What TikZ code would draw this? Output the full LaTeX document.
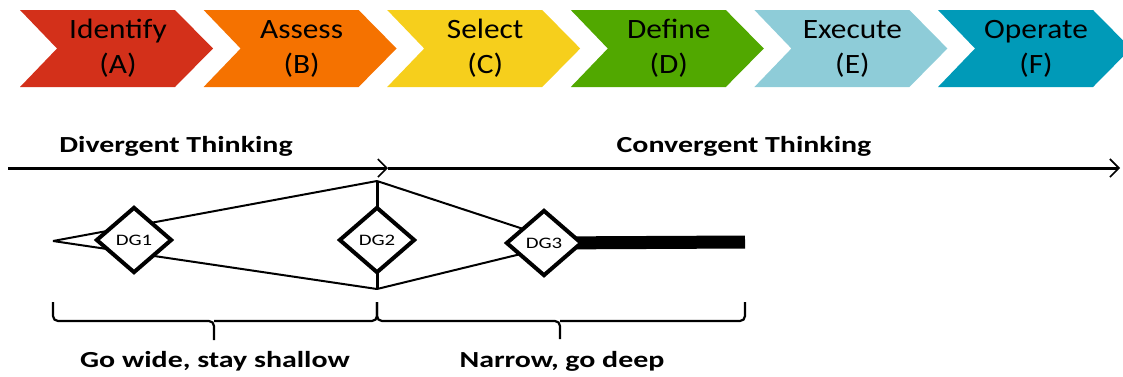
\documentclass[tikz,border=0pt]{standalone}
\usepackage{fontspec}
\setmainfont{Carlito}
\newfontfamily\stepfont[FakeStretch=1.12]{Carlito}
\newfontfamily\phasefont[FakeStretch=1.3]{Carlito}
\usetikzlibrary{arrows.meta,shapes.geometric,backgrounds,calc}

\definecolor{stepA}{RGB}{211,48,26}
\definecolor{stepB}{RGB}{245,114,0}
\definecolor{stepC}{RGB}{246,207,28}
\definecolor{stepD}{RGB}{81,168,0}
\definecolor{stepE}{RGB}{142,204,216}
\definecolor{stepF}{RGB}{0,154,184}

\begin{document}
\begin{tikzpicture}[x=1pt,y=-1pt,{gate/.style={diamond,draw=black,line width=4pt,fill=white,inner sep=0pt,minimum width=76pt,minimum height=66pt,font=\phasefont\fontsize{16}{18}\selectfont}},{axis/.style={line width=3pt,-{Straight Barb[length=9pt,width=18pt,line width=1.6pt]}}},{fan/.style={line width=2pt}},{brc/.style={line width=2.2pt,rounded corners=5pt}},{phase/.style={anchor=base,font=\phasefont\bfseries\fontsize{23}{27}\selectfont}},{steptxt/.style={align=center,inner sep=0pt,font=\stepfont\fontsize{28}{35}\selectfont}}]
	\useasboundingbox (0,0) rectangle (1123,376);

	%% chevrons
	\foreach \lbl/\tag/\col [count=\i from 0] in {Identify/A/stepA,Assess/B/stepB,Select/C/stepC,Define/D/stepD,Execute/E/stepE,Operate/F/stepF}{
		\pgfmathsetmacro{\xo}{20+183.6*\i}
		\fill [\col] (\xo,10) -- ++(155,0) -- ++(38,38.5) -- ++(-38,38.5) -- ++(-155,0) -- ++(37,-38.5) -- cycle;
		\node [steptxt] (step\tag) at (\xo+98,48.5) {\lbl\\(\tag)};
	}

	%% thinking axis
	\node [phase] (divtxt) at (176,152) {Divergent Thinking};
	\node [phase] (convtxt) at (744,152) {Convergent Thinking};
	\coordinate (axstart) at (8,168);
	\coordinate (axmid) at (388,168);
	\coordinate (axend) at (1120,168);
	\draw [axis] (axstart) -- (axmid);
	\draw [axis] (axmid) -- (axend);

	%% decision gates
	\coordinate (apex) at (53,241);
	\coordinate (wtop) at (377,181);
	\coordinate (wbot) at (377,289);
	\coordinate (barend) at (745,242);
	\node [gate] (dg1) at (134,240) {DG1};
	\node [gate] (dg2) at (377,240) {DG2};
	\node [gate] (dg3) at (544,243) {DG3};

	\begin{scope}[on background layer]
		\draw [fan] (apex) -- (wtop);
		\draw [fan] (apex) -- (wbot);
		\draw [fan,line width=3pt] (wtop) -- (wbot);
		\draw [fan] (wtop) -- ($(dg3)+(22,0)$);
		\draw [fan] (wbot) -- ($(dg3)+(22,0)$);
		\draw [line width=13pt] (dg3.center) -- (barend);
	\end{scope}

	%% braces
	\coordinate (bl) at (53,302);
	\coordinate (bm) at (377,302);
	\coordinate (br) at (745,302);
	\coordinate (tipl) at (214,321);
	\coordinate (tipr) at (560,321);
	\draw [brc] (bl) |- (tipl) -- ++(0,19);
	\draw [brc] (bm) |- (tipl);
	\draw [brc] (bm) |- (tipr) -- ++(0,18);
	\draw [brc] (br) |- (tipr);
	\node [phase] (widetxt) at (215,367) {Go wide, stay shallow};
	\node [phase] (deeptxt) at (562,367) {Narrow, go deep};
\end{tikzpicture}
\end{document}
